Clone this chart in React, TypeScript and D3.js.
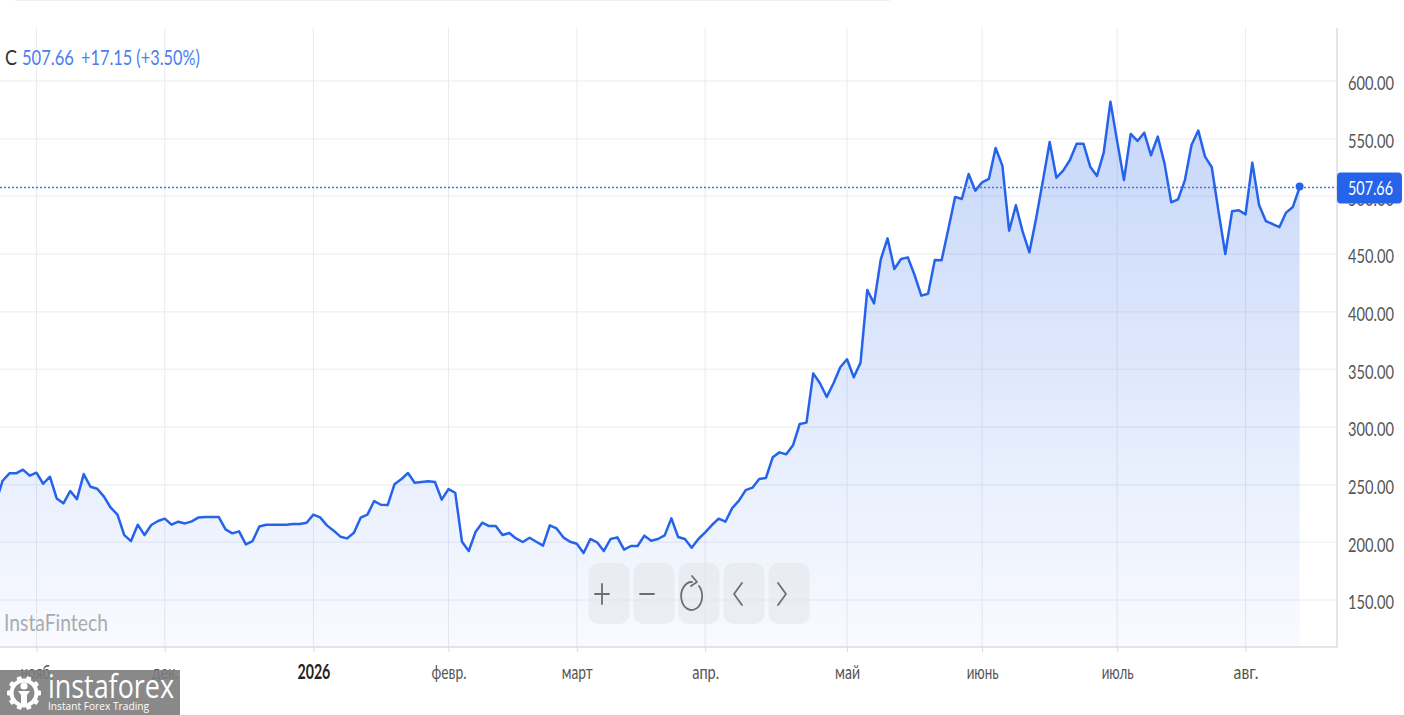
import { useEffect, useRef } from 'react'
import * as d3 from 'd3'

const WIDTH = 1404
const HEIGHT = 715

// daily closes (first point sits just left of the frame)
const closes = [
  235, 253.4, 259.8, 259.8, 263, 257.8, 260.4, 250.8, 256.9, 238.1, 233.8, 244.5, 237.5, 259.2, 248.2, 246.5, 239.6, 230, 224, 206.3,
  201.1, 215.3, 206.3, 215, 218.5, 220.5, 215.3, 217.9, 216.4, 218.2, 221.6, 221.9, 221.9, 221.9, 211.2, 207.8, 209.5, 198.2, 201.1, 213.8,
  215.3, 215.3, 215.3, 215.3, 215.9, 215.9, 217, 224, 221.6, 214.7, 210.1, 204.9, 203.4, 208.3, 221.4, 224, 235.8, 232.6, 232.3, 250.3,
  254.6, 260.1, 251.7, 252.3, 252.9, 252.3, 237, 246.2, 243, 200.5, 192.5, 208.9, 217, 214.1, 214.1, 206.3, 208.1, 203.4, 200.3, 204,
  200.5, 197.1, 214.7, 212.1, 204.3, 200.5, 198.8, 190.7, 202.9, 200, 192.5, 202.9, 204.3, 193.6, 196.8, 196.8, 205.8, 201.4, 202.9, 206,
  220.8, 204.6, 202.9, 195.3, 202.9, 208.6, 215, 220.5, 217.9, 229.7, 236.1, 245.3, 247.4, 254.9, 255.8, 273.7, 278, 276.3, 284.1, 302.6,
  303.8, 346.5, 337.9, 326, 337.9, 351.8, 358.7, 343.1, 355.8, 418.8, 407.2, 445.4, 463.6, 437, 445.7, 447.1, 431.8, 413.9, 415.6, 444.8,
  444.5, 471.7, 499.5, 497.7, 519.4, 504.9, 512.2, 515.1, 541.9, 526.6, 470.2, 492.2, 469.4, 451.5, 481, 513.6, 547.1, 516.2, 522.3, 531.5,
  545.7, 545.7, 525.7, 517.7, 537.9, 582.1, 547.4, 514.2, 554.1, 548, 555.2, 535.6, 551.8, 528.6, 494.8, 497.4, 513.6, 544.5, 557, 534.4,
  525.2, 486.7, 450, 487, 487.9, 484.4, 529.2, 492.5, 478.6, 476, 473.2, 485.9, 490.8, 507.66,
]

const monthLabels = ['нояб.', 'дек.', '2026', 'февр.', 'март', 'апр.', 'май', 'июнь', 'июль', 'авг.']
const monthIndex = [6, 25, 47, 67, 86, 105, 126, 146, 166, 185]
const monthWidths = [33, 27, 33, 35, 31, 27, 25, 32, 32, 25]
const priceTicks = [150, 200, 250, 300, 350, 400, 450, 500, 550, 600]
const lastPrice = 507.66

const BLUE = '#2563eb'
const FONT = 'Lato, "Open Sans", sans-serif'

// the chart's font is narrower than anything installed, so squeeze each text to its width
function squeeze(el: SVGTextElement, width: number) {
  const s = width / el.getComputedTextLength()
  const tx = +(el.getAttribute('x') || 0)
  const ty = +(el.getAttribute('y') || 0)
  el.setAttribute('x', '0')
  el.setAttribute('y', '0')
  el.setAttribute('transform', `translate(${tx},${ty}) scale(${s},1)`)
}

export default function App() {
  const svgRef = useRef<SVGSVGElement>(null)

  useEffect(() => {
    if (!svgRef.current) return
    const svg = d3.select(svgRef.current)
    svg.selectAll('*').remove()

    const x = d3.scaleLinear().domain([0, closes.length - 1]).range([-4.1, 1299.6])
    const y = d3.scaleLinear().domain([150, 600]).range([600, 81])
    const axisY = 647
    const axisX = 1337

    const defs = svg.append('defs')
    const grad = defs.append('linearGradient')
      .attr('id', 'areaFill')
      .attr('gradientUnits', 'userSpaceOnUse')
      .attr('x1', 0).attr('x2', 0)
      .attr('y1', y(d3.max(closes)!)).attr('y2', axisY)
    grad.append('stop').attr('offset', 0).attr('stop-color', BLUE).attr('stop-opacity', 0.26)
    grad.append('stop').attr('offset', 1).attr('stop-color', BLUE).attr('stop-opacity', 0.03)

    // faint strip left over from the page above the chart
    svg.append('rect').attr('x', 15).attr('y', -1).attr('width', 875).attr('height', 2).attr('fill', '#eef0f2')

    // grid
    svg.append('g').selectAll('line').data(priceTicks).join('line')
      .attr('x1', 0).attr('x2', axisX)
      .attr('y1', d => y(d)).attr('y2', d => y(d))
      .attr('stroke', '#f1f2f4').attr('stroke-width', 1.5)
    svg.append('g').selectAll('line').data(monthIndex).join('line')
      .attr('x1', d => x(d)).attr('x2', d => x(d))
      .attr('y1', 28).attr('y2', axisY)
      .attr('stroke', '#e9ebef').attr('stroke-width', 1)

    // area + line
    const area = d3.area<number>().x((_, i) => x(i)).y0(axisY).y1(d => y(d))
    const line = d3.line<number>().x((_, i) => x(i)).y(d => y(d))
    svg.append('path').attr('d', area(closes)!).attr('fill', 'url(#areaFill)')
    svg.append('path').attr('d', line(closes)!)
      .attr('fill', 'none').attr('stroke', BLUE).attr('stroke-width', 2.5).attr('stroke-linejoin', 'round')

    // last price line
    svg.append('line')
      .attr('x1', 0).attr('x2', axisX)
      .attr('y1', y(lastPrice)).attr('y2', y(lastPrice))
      .attr('stroke', '#3f75ee').attr('stroke-width', 1.6).attr('stroke-dasharray', '2 2')
    svg.append('circle')
      .attr('cx', x(closes.length - 1)).attr('cy', y(lastPrice) - 1).attr('r', 4).attr('fill', BLUE)

    // axes
    const bottomAxis = d3.axisBottom(x)
      .tickValues(monthIndex)
      .tickSize(5)
      .tickFormat((_, i) => monthLabels[i])
    const gx = svg.append('g').attr('transform', `translate(0,${axisY})`).call(bottomAxis)
    gx.select('.domain').attr('d', `M0,0H${axisX}`).attr('stroke', '#d8dde3').attr('stroke-width', 1.5)
    gx.selectAll('.tick line').attr('stroke', '#d8dde3')
    gx.selectAll<SVGTextElement, number>('.tick text')
      .attr('y', 32)
      .attr('dy', 0)
      .attr('font-family', FONT)
      .attr('font-size', (_, i) => (i === 2 ? 21 : 20))
      .attr('fill', (_, i) => (i === 2 ? '#222' : '#555'))
      .attr('font-weight', (_, i) => (i === 2 ? 700 : 400))
      .each(function (_, i) { squeeze(this, monthWidths[i]) })

    const rightAxis = d3.axisRight(y).tickValues(priceTicks).tickSize(0).tickFormat(d3.format('.2f') as any)
    const gy = svg.append('g').attr('transform', `translate(${axisX},0)`).call(rightAxis)
    gy.select('.domain').attr('d', `M0,28V${axisY}`).attr('stroke', '#d8dde3').attr('stroke-width', 1.5)
    gy.selectAll<SVGTextElement, number>('.tick text')
      .attr('x', 11)
      .attr('dy', '0.44em')
      .attr('font-family', FONT)
      .attr('font-size', 20)
      .attr('fill', '#555')
      .each(function () { squeeze(this, 46) })

    // price badge
    svg.append('rect')
      .attr('x', axisX).attr('y', y(lastPrice) - 15).attr('width', 65).attr('height', 31).attr('rx', 4)
      .attr('fill', BLUE)
    svg.append('text')
      .attr('x', axisX + 11).attr('y', y(lastPrice) + 8)
      .attr('font-family', FONT).attr('font-size', 20).attr('fill', '#fff')
      .text(lastPrice.toFixed(2))
      .each(function () { squeeze(this, 45) })

    // header
    const header = (label: string, px: number, w: number, color: string) => {
      svg.append('text').attr('x', px).attr('y', 65)
        .attr('font-family', FONT).attr('font-size', 21).attr('fill', color)
        .text(label)
        .each(function () { squeeze(this, w) })
    }
    header('C', 5, 12, '#333')
    header('507.66', 22, 52, '#4a80f0')
    header('+17.15 (+3.50%)', 81, 119, '#4a80f0')

    // watermark
    svg.append('text').attr('x', 4).attr('y', 631)
      .attr('font-family', FONT).attr('font-size', 24).attr('fill', '#a9abae')
      .text('InstaFintech')
      .each(function () { squeeze(this, 104) })

    // zoom buttons
    const buttons = svg.append('g')
    const btnX = [588.5, 633.5, 678.5, 723.5, 768.5]
    buttons.selectAll('rect').data(btnX).join('rect')
      .attr('x', d => d).attr('y', 563).attr('width', 41).attr('height', 61).attr('rx', 10)
      .attr('fill', '#e4e6ea').attr('fill-opacity', 0.6)
    const ink = { fill: 'none', stroke: '#6b6e73', 'stroke-width': 1.8, 'stroke-linecap': 'round', 'stroke-linejoin': 'round' }
    const icon = (d: string) => {
      const p = buttons.append('path').attr('d', d)
      Object.entries(ink).forEach(([k, v]) => p.attr(k, v))
    }
    icon('M595,594H609M602,584V604')
    icon('M640,594H654')
    icon('M692,582A10.5,14 0 1 0 699,586')
    icon('M692,576L697,582L691,586')
    icon('M742,583L734,594L742,605')
    icon('M778,583L786,594L778,605')

    // logo block
    const logo = svg.append('g')
    logo.append('rect').attr('x', 0).attr('y', 670).attr('width', 180).attr('height', 45)
      .attr('fill', '#7c7c7c').attr('fill-opacity', 0.9)
    const gear = logo.append('g').attr('transform', 'translate(24,693)').attr('fill', '#fff')
    d3.range(10).forEach(i => {
      gear.append('rect').attr('x', -2.5).attr('y', -17).attr('width', 5).attr('height', 6).attr('rx', 1)
        .attr('transform', `rotate(${i * 36 + 18})`)
    })
    gear.append('circle').attr('r', 12.5).attr('fill', 'none').attr('stroke', '#fff').attr('stroke-width', 4)
    gear.append('circle').attr('cy', -7).attr('r', 3.6)
    gear.append('path').attr('d', 'M-6,-2H6L3,2V12H-3V2Z')
    logo.append('text').attr('x', 48).attr('y', 698)
      .attr('font-family', '"Open Sans", sans-serif').attr('font-size', 32).attr('fill', '#fff')
      .text('instaforex')
      .each(function () { squeeze(this, 126) })
    logo.append('text').attr('x', 48).attr('y', 709.5)
      .attr('font-family', '"Open Sans", sans-serif').attr('font-size', 11.5).attr('fill', '#fff')
      .text('Instant Forex Trading')
      .each(function () { squeeze(this, 101) })
  }, [])

  return (
    <svg
      ref={svgRef}
      width={WIDTH}
      height={HEIGHT}
      style={{ position: 'absolute', left: 0, top: 0, display: 'block', background: '#fff' }}
    />
  )
}
